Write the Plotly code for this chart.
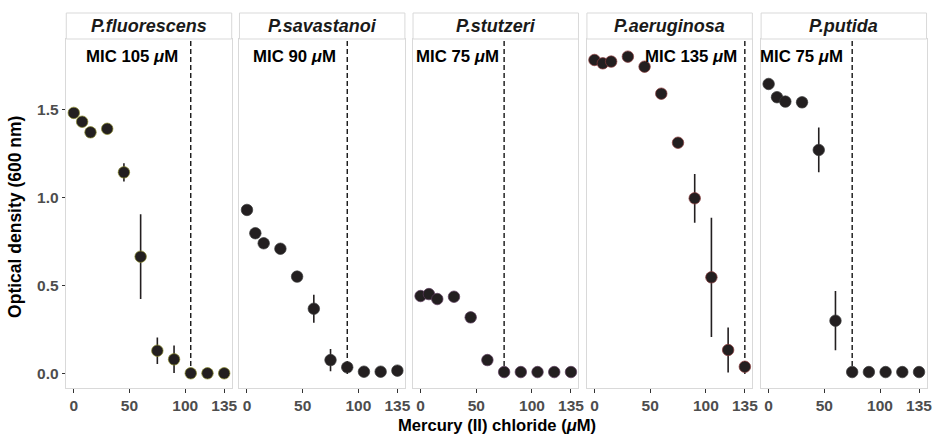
import plotly.graph_objects as go

# ---------------- data ----------------
species = ["P.fluorescens", "P.savastanoi", "P.stutzeri", "P.aeruginosa", "P.putida"]
mic = [105, 90, 75, 135, 75]
mercury = [0, 7.5, 15, 30, 45, 60, 75, 90, 105, 120, 135]

od_fluorescens = [1.48, 1.43, 1.37, 1.39, 1.143, 0.665, 0.132, 0.083, 0.004, 0.004, 0.004]
sd_fluorescens = [0.01, 0.01, 0.01, 0.01, 0.052, 0.24, 0.075, 0.078, 0.0, 0.0, 0.0]

od_savastanoi = [0.930, 0.798, 0.741, 0.710, 0.552, 0.370, 0.079, 0.038, 0.013, 0.013, 0.019]
sd_savastanoi = [0.01, 0.01, 0.01, 0.01, 0.01, 0.079, 0.063, 0.01, 0.0, 0.0, 0.0]

od_stutzeri = [0.442, 0.453, 0.425, 0.438, 0.321, 0.079, 0.011, 0.011, 0.011, 0.011, 0.011]
sd_stutzeri = [0.01, 0.01, 0.01, 0.01, 0.01, 0.01, 0.0, 0.0, 0.0, 0.0, 0.0]

od_aeruginosa = [1.780, 1.761, 1.771, 1.799, 1.742, 1.589, 1.311, 0.996, 0.548, 0.136, 0.041]
sd_aeruginosa = [0.01, 0.01, 0.01, 0.01, 0.01, 0.01, 0.02, 0.138, 0.338, 0.128, 0.01]

od_putida = [1.644, 1.569, 1.544, 1.540, 1.270, 0.302, 0.011, 0.011, 0.011, 0.011, 0.011]
sd_putida = [0.01, 0.01, 0.01, 0.01, 0.127, 0.168, 0.0, 0.0, 0.0, 0.0, 0.0]

od_values = [od_fluorescens, od_savastanoi, od_stutzeri, od_aeruginosa, od_putida]
sd_values = [sd_fluorescens, sd_savastanoi, sd_stutzeri, sd_aeruginosa, sd_putida]

x_ticks = [0, 50, 100, 135]
y_ticks = [0.0, 0.5, 1.0, 1.5]
y_ticklabels = ["0.0", "0.5", "1.0", "1.5"]

# ---------------- layout / style ----------------
W, H = 939, 438
FONT = "Liberation Sans, Arial, Helvetica, sans-serif"
panel_left = [66.7, 241.0, 415.7, 590.7, 766.0]
panel_width = 166.5
plot_top_px, plot_bottom_px = 39, 388
strip_top_px = 13
outline_colors = ["#8a8a2a", "#3a3a3a", "#5a3a5a", "#8a3a3a", "#3a3a3a"]
label_shift = [-11, -9, -3, -6, -7]
border = "#d9d9d9"
ink = "#231f20"

x_range = [-6.75, 141.75]
y_range = [-0.0794, 1.899]

def py(p):
    return 1 - p / H

fig = go.Figure()
shapes = []
annotations = []

for i, sp in enumerate(species):
    n = "" if i == 0 else str(i + 1)
    xa, ya = "x" + n, "y" + n
    fig.add_trace(go.Scatter(
        x=mercury, y=od_values[i], mode="markers",
        xaxis=xa, yaxis=ya,
        marker=dict(size=11.5, color=ink, line=dict(color=outline_colors[i], width=0.7)),
        error_y=dict(type="data", array=sd_values[i], visible=True,
                     thickness=1.6, width=0, color=ink),
        showlegend=False, hoverinfo="x+y",
    ))
    d0 = panel_left[i] / W
    d1 = (panel_left[i] + panel_width) / W
    xaxis = dict(
        domain=[d0, d1], range=x_range, anchor=ya,
        tickmode="array", tickvals=x_ticks, ticktext=[str(v) for v in x_ticks],
        ticks="outside", ticklen=3.5, tickwidth=1, tickcolor="#333333",
        tickfont=dict(family=FONT, size=15.5, color="#4d4d4d", weight="bold"),
        showgrid=False, zeroline=False,
        showline=True, mirror=True, linecolor=border, linewidth=1,
    )
    yaxis = dict(
        domain=[py(plot_bottom_px), py(plot_top_px)], range=y_range, anchor=xa,
        tickmode="array", tickvals=y_ticks, ticktext=y_ticklabels,
        ticks="outside" if i == 0 else "", ticklen=3.5, tickwidth=1, tickcolor="#333333",
        showticklabels=(i == 0),
        tickfont=dict(family=FONT, size=15.5, color="#4d4d4d", weight="bold"),
        showgrid=False, zeroline=False,
        showline=True, mirror=True, linecolor=border, linewidth=1,
    )
    if i > 0:
        yaxis["matches"] = "y"
    fig.update_layout(**{"xaxis" + n: xaxis, "yaxis" + n: yaxis})

    # MIC dashed line
    shapes.append(dict(type="line", xref=xa, yref=ya, x0=mic[i], x1=mic[i],
                       y0=0, y1=y_range[1], layer="below",
                       line=dict(color="black", width=1.3, dash="5px,3px")))
    # MIC label
    annotations.append(dict(xref=xa, yref=ya, x=mic[i], y=1.797,
                            xanchor="right", yanchor="middle", xshift=label_shift[i],
                            text="<b>MIC %d <i>μ</i>M</b>" % mic[i], showarrow=False,
                            font=dict(family=FONT, size=16.8, color="black")))
    # strip
    shapes.append(dict(type="rect", xref="paper", yref="paper",
                       x0=d0, x1=d1, y0=py(plot_top_px), y1=py(strip_top_px),
                       fillcolor="white", line=dict(color=border, width=1)))
    annotations.append(dict(xref="paper", yref="paper", x=(d0 + d1) / 2,
                            y=py((strip_top_px + plot_top_px) / 2),
                            xanchor="center", yanchor="middle",
                            text="<b><i>%s</i></b>" % sp, showarrow=False,
                            font=dict(family=FONT, size=18, color="#1a1a1a")))

# axis titles
annotations.append(dict(xref="paper", yref="paper", x=500 / W, y=py(425),
                        xanchor="center", yanchor="middle", showarrow=False,
                        text="<b>Mercury (II) chloride (<i>μ</i>M)</b>",
                        font=dict(family=FONT, size=16.6, color="black")))
annotations.append(dict(xref="paper", yref="paper", x=15 / W, y=py(217),
                        xanchor="center", yanchor="middle", showarrow=False,
                        textangle=-90,
                        text="<b>Optical density (600 nm)</b>",
                        font=dict(family=FONT, size=17.5, color="black")))

fig.update_layout(
    width=W, height=H,
    margin=dict(l=0, r=0, t=0, b=0),
    paper_bgcolor="white", plot_bgcolor="white",
    shapes=shapes, annotations=annotations,
    showlegend=False,
)

fig.write_html("out.html",
               config={"displayModeBar": False},
               post_script="document.body.style.margin='0px';document.body.style.overflow='hidden';")
